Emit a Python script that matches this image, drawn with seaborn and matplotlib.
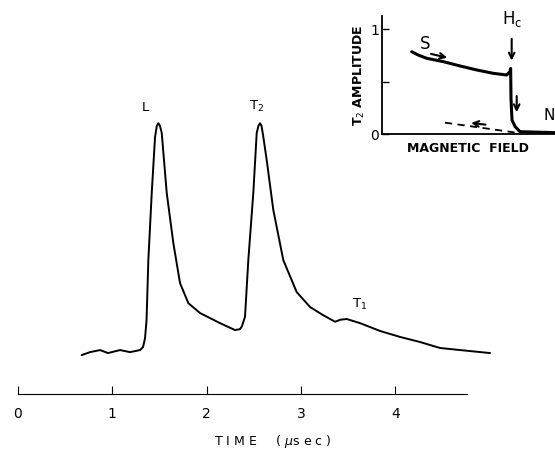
import matplotlib
matplotlib.use("Agg")
import matplotlib.pyplot as plt
import seaborn as sns
import pandas as pd

# ---- main trace (time in microseconds, amplitude in arbitrary units) ----
time_us = [0.675, 0.764, 0.870, 0.954, 1.082, 1.188, 1.294, 1.326, 1.347, 1.363,
           1.382, 1.418, 1.453, 1.472, 1.488, 1.505, 1.524, 1.577, 1.647, 1.718,
           1.806, 1.930, 2.142, 2.301, 2.354, 2.375, 2.407, 2.442, 2.495, 2.531,
           2.550, 2.566, 2.582, 2.598, 2.637, 2.707, 2.813, 2.955, 3.097, 3.234,
           3.362, 3.420, 3.486, 3.627, 3.839, 4.051, 4.263, 4.475, 4.687, 5.005]
amplitude = [-0.009, 0.004, 0.013, 0.000, 0.013, 0.004, 0.013, 0.026, 0.065, 0.143,
             0.404, 0.696, 0.939, 0.988, 0.999, 0.988, 0.957, 0.696, 0.478, 0.304,
             0.217, 0.174, 0.130, 0.100, 0.104, 0.117, 0.158, 0.404, 0.696, 0.957,
             0.988, 0.999, 0.988, 0.948, 0.839, 0.622, 0.404, 0.265, 0.200, 0.165,
             0.136, 0.145, 0.148, 0.130, 0.096, 0.070, 0.048, 0.022, 0.013, 0.000]
time_ticks = [0, 1, 2, 3, 4]

# ---- inset: T2 amplitude vs magnetic field ----
field = [0.173, 0.211, 0.260, 0.356, 0.452, 0.548, 0.644, 0.721, 0.740, 0.744,
         0.746, 0.746, 0.752, 0.770, 0.798, 1.000]
t2_amp = [0.784, 0.752, 0.721, 0.689, 0.648, 0.610, 0.578, 0.562, 0.594, 0.625,
          0.450, 0.229, 0.133, 0.070, 0.022, 0.013]
return_field = [0.365, 0.779]
return_amp = [0.108, 0.012]
inset_ticks = [0, 0.5, 1]
inset_ticklabels = ["0", "", "1"]

sns.set_theme(style="white")
plt.rcParams['font.family'] = ['DejaVu Sans']
plt.rcParams['text.color'] = 'black'
plt.rcParams['axes.labelcolor'] = 'black'
plt.rcParams['xtick.color'] = 'black'
plt.rcParams['ytick.color'] = 'black'

W, H = 555, 453
fig = plt.figure(figsize=(W / 100, H / 100), dpi=100)

# main axes
ax = fig.add_axes([18 / W, (H - 394) / H, (499 - 18) / W, (394 - 77) / H])
df = pd.DataFrame({"t": time_us, "a": amplitude})
sns.lineplot(data=df, x="t", y="a", ax=ax, color="black", lw=1.4, sort=False)
ax.set_xlim(0, 5.1)
ax.set_ylim(-0.178, 1.2)
for s in ["left", "right", "top"]:
    ax.spines[s].set_visible(False)
ax.spines["bottom"].set_bounds(0, 4.76)
ax.spines["bottom"].set_linewidth(0.8)
ax.spines["bottom"].set_color("black")
ax.set_xticks(time_ticks)
ax.set_xticklabels([str(t) for t in time_ticks])
ax.set_yticks([])
ax.tick_params(axis="x", direction="in", length=6, width=0.8, pad=9,
               labelsize=10, bottom=True, colors="black")
ax.set_xlabel("")
ax.set_ylabel("")
ax.text(1.35, 1.04, "L", fontsize=9.5, ha="center", va="bottom", color="black")
ax.text(2.53, 1.04, r"T$_2$", fontsize=9.5, ha="center", va="bottom", color="black")
ax.text(3.62, 0.18, r"T$_1$", fontsize=9.5, ha="center", va="bottom", color="black")
fig.text(273 / W, 1 - 442 / H, "T I M E     ( $\\mu$s e c )", fontsize=9,
         ha="center", va="center", color="black")

# inset axes
ax2 = fig.add_axes([381.7 / W, (H - 134) / H, (W - 381.7) / W, (134 - 16) / H])
df2 = pd.DataFrame({"f": field, "a": t2_amp})
sns.lineplot(data=df2, x="f", y="a", ax=ax2, color="black", lw=2.2, sort=False)
ax2.plot(return_field, return_amp, color="black", lw=1.3, ls=(0, (4, 3)))
ax2.set_xlim(0, 1)
ax2.set_ylim(0, 1.124)
for s in ["right", "top"]:
    ax2.spines[s].set_visible(False)
for s in ["left", "bottom"]:
    ax2.spines[s].set_linewidth(1.3)
    ax2.spines[s].set_color("black")
ax2.set_xticks([])
ax2.set_yticks(inset_ticks)
ax2.set_yticklabels(inset_ticklabels)
ax2.tick_params(axis="y", direction="in", length=5, width=1.0, pad=2,
                labelsize=10, left=True, colors="black")
ax2.set_ylabel(r"T$_2$ AMPLITUDE", fontsize=9, fontweight="bold", labelpad=2,
               color="black")
ax2.set_xlabel("MAGNETIC  FIELD", fontsize=9, fontweight="bold", labelpad=6,
               color="black")
ax2.patch.set_alpha(0)

arrow = dict(arrowstyle="->", color="black", lw=1.5, mutation_scale=10)
ax2.annotate("", xy=(0.394, 0.721), xytext=(0.269, 0.769), arrowprops=arrow)
ax2.annotate("", xy=(0.750, 0.673), xytext=(0.750, 0.933), arrowprops=arrow)
ax2.annotate("", xy=(0.779, 0.181), xytext=(0.779, 0.388), arrowprops=arrow)
ax2.annotate("", xy=(0.50, 0.108), xytext=(0.615, 0.086), arrowprops=arrow)
ax2.text(0.25, 0.86, "S", fontsize=12, ha="center", va="center", color="black")
ax2.text(0.75, 1.10, r"H$_\mathregular{c}$", fontsize=12, ha="center",
         va="center", color="black")
ax2.text(0.935, 0.18, "N", fontsize=11, ha="left", va="center", color="black")

fig.savefig("out.png", dpi=100, facecolor="white")
